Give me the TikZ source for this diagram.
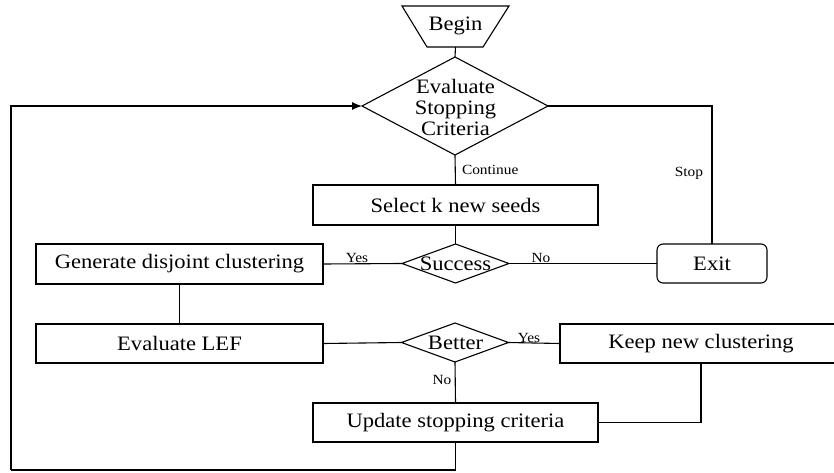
\documentclass[tikz,border=0pt]{standalone}
\usepackage{fontspec}
\setmainfont{Liberation Serif}[FakeStretch=1.1]
\usetikzlibrary{shapes.geometric,arrows.meta}
\begin{document}
\begin{tikzpicture}[x=1pt,y=-1pt,
  line width=1.1pt,
  every node/.style={inner sep=0pt,outer sep=0pt},
  bigtext/.style={font=\fontsize{20.5}{21}\selectfont},
  smalltext/.style={font=\fontsize{14}{15}\selectfont},
  procbox/.style={draw,rectangle,bigtext},
  decbox/.style={draw,diamond,minimum width=107pt,minimum height=39pt},
  conn/.style={draw,line width=1.1pt}]
\useasboundingbox (0,0) rectangle (834,473);
\fill[white] (0,0) rectangle (834,473);

% Begin trapezoid
\draw (402,6) -- (509,6) -- (483,47) -- (427,47) -- cycle;
\node[bigtext] (begin) at (455.5,26) {Begin};
\coordinate (beginb) at (455.5,47);

% Evaluate stopping criteria
\node[draw,diamond,minimum width=186pt,minimum height=98pt] (eval) at (455,106) {};
\node[bigtext,align=center] (evaltext) at (455.5,107) {Evaluate\\Stopping\\Criteria};

% Select
\node[procbox,minimum width=285pt,minimum height=40pt] (select) at (455.5,205) {Select k new seeds};

% Success
\node[decbox] (success) at (455.5,263.5) {};
\node[bigtext] (successtext) at (455.5,264) {Success};

% Generate
\node[procbox,minimum width=287pt,minimum height=40pt] (gen) at (179.5,264) {Generate disjoint clustering};

% Exit
\node[draw,rectangle,rounded corners=6pt,bigtext,minimum width=110pt,minimum height=39pt] (exit) at (712,263.5) {Exit};

% Evaluate LEF
\node[procbox,minimum width=287pt,minimum height=39pt] (lef) at (179.5,343.5) {Evaluate LEF};

% Better
\node[decbox] (better) at (455,342.5) {};
\node[bigtext] (bettertext) at (455.5,343) {Better};

% Keep new clustering (right edge beyond the picture)
\node[procbox,minimum width=282pt,minimum height=39pt] (keep) at (701,343.5) {Keep new clustering};

% Update
\node[procbox,minimum width=285pt,minimum height=39pt] (update) at (455.5,422.5) {Update stopping criteria};

\coordinate (loopbr) at (455.5,470);
\coordinate (loopbl) at (11,470);

% Connectors
\draw[conn] (beginb) -- (eval.north);
\draw[conn] (eval.south) -- (select.north);
\draw[conn] (select.south) -- (success.north);
\draw[conn] (success.west) -- (gen.east);
\draw[conn] (success.east) -- (exit.west);
\draw[conn] (eval.east) -| (exit.north);
\draw[conn] (gen.south) -- (lef.north);
\draw[conn] (lef.east) -- (better.west);
\draw[conn] (better.east) -- (keep.west);
\draw[conn] (better.south) -- (update.north);
\draw[conn] (keep.south) |- (update.east);
\draw[conn] (update.south) -- (loopbr) -- (loopbl);
\draw[conn,-{Latex[length=10pt,width=8pt]}] (loopbl) |- (eval.west);

% Labels
\node[smalltext,anchor=west] (lcont) at (462,170) {Continue};
\node[smalltext] (lstop) at (689,173) {Stop};
\node[smalltext] (lyes1) at (357,258) {Yes};
\node[smalltext] (lno1) at (541,258) {No};
\node[smalltext] (lyes2) at (529,338) {Yes};
\node[smalltext] (lno2) at (442,380) {No};
\end{tikzpicture}
\end{document}
